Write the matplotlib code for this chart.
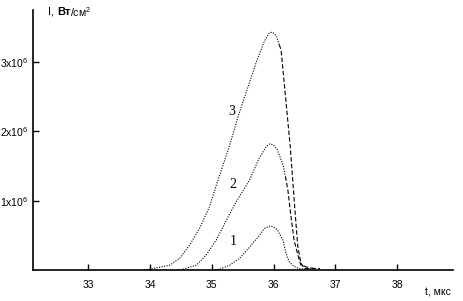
import matplotlib
matplotlib.use("Agg")
import matplotlib.pyplot as plt
import numpy as np

plt.rcParams['font.family'] = ['Liberation Sans', 'DejaVu Sans']
plt.rcParams['mathtext.fontset'] = 'custom'
plt.rcParams['mathtext.rm'] = 'Liberation Sans'

# curve 3 (t in us, I in 1e6 W/cm2)
t3 = [33.9, 33.99, 34.32, 34.48, 34.64, 34.80, 34.96, 35.10, 35.27, 35.42, 35.61, 35.72,
      35.85, 35.93, 35.98, 36.04, 36.09, 36.12, 36.27, 36.34, 36.39, 36.44, 36.50, 36.75]
i3 = [0.0, 0.01, 0.07, 0.17, 0.36, 0.60, 0.91, 1.30, 1.75, 2.20, 2.71, 3.00,
      3.30, 3.42, 3.43, 3.38, 3.25, 3.17, 1.76, 0.91, 0.34, 0.10, 0.02, 0.02]
dash3 = 17  # index where dashed descent starts

# curve 2
t2 = [34.45, 34.53, 34.75, 34.91, 35.07, 35.23, 35.39, 35.53, 35.61, 35.77, 35.88, 35.94,
      36.00, 36.06, 36.15, 36.19, 36.23, 36.28, 36.33, 36.39, 36.44, 36.58, 36.7]
i2 = [0.0, 0.01, 0.07, 0.22, 0.43, 0.71, 0.98, 1.18, 1.30, 1.62, 1.78, 1.82,
      1.80, 1.73, 1.52, 1.35, 1.15, 0.77, 0.43, 0.22, 0.07, 0.03, 0.02]
dash2 = 16

# curve 1
t1 = [35.05, 35.12, 35.29, 35.45, 35.61, 35.77, 35.85, 35.94, 36.00, 36.06, 36.15,
      36.20, 36.25, 36.33, 36.41, 36.6]
i1 = [0.0, 0.01, 0.07, 0.17, 0.33, 0.50, 0.60, 0.635, 0.62, 0.58, 0.43,
      0.24, 0.12, 0.05, 0.02, 0.01]

labels = ['1', '2', '3']
label_pos = [(35.34, 0.41), (35.34, 1.23), (35.32, 2.28)]

xticks = [33, 34, 35, 36, 37, 38]
yticks = [1, 2, 3]

fig = plt.figure(figsize=(4.64, 3.01), dpi=100)
ax = fig.add_axes([0.0705, 0.103, 0.9055, 0.864])

dot = (0, (1, 1.3))
dash = (0, (4, 2))
for t, i, k in [(t3, i3, dash3), (t2, i2, dash2), (t1, i1, len(t1))]:
    t = np.array(t)
    i = np.array(i) * 1e6
    ax.plot(t[:k], i[:k], color='black', lw=0.8, linestyle=dot)
    if k < len(t):
        ax.plot(t[k - 1:], i[k - 1:], color='black', lw=0.8, linestyle=dash)

for lab, (x, y) in zip(labels, label_pos):
    ax.text(x, y * 1e6, lab, fontsize=10, family='Liberation Serif', ha='center', va='center')

ax.set_xlim(32.1, 38.9)
ax.set_ylim(0, 3.75e6)
ax.set_xticks(xticks)
ax.set_xticklabels([str(v) for v in xticks])
ax.set_yticks([v * 1e6 for v in yticks])
ax.set_yticklabels([f'{v}x10$^6$' for v in yticks])
ax.tick_params(direction='in', length=4, width=1, labelsize=7.5, pad=7)
ax.tick_params(axis='y', pad=3)
for s in ['top', 'right']:
    ax.spines[s].set_visible(False)
for s in ['left', 'bottom']:
    ax.spines[s].set_linewidth(1.2)

# axis titles: "I, Вт/см²" with bold "Вт"
fig.canvas.draw()
r = fig.canvas.get_renderer()
x0, y0 = 48, 289
parts = [('I, ', 'normal', 8), ('Вт', 'bold', 8), ('/см$^2$', 'normal', 7.5)]
for s, w, fs in parts:
    t = fig.text(x0 / 464, y0 / 301, s, fontsize=fs, fontweight=w, ha='left', va='center')
    x0 = t.get_window_extent(r).x1
fig.text(425 / 464, 0.01, 't, мкс', fontsize=7.5, ha='left', va='bottom')

fig.savefig('out.png', dpi=100)
